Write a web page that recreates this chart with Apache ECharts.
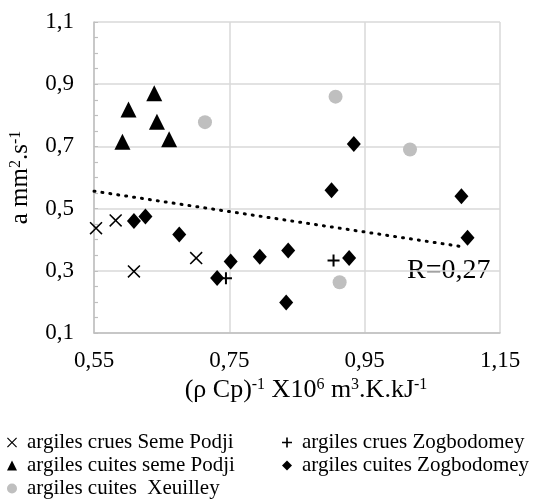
<!DOCTYPE html>
<html>
<head>
<meta charset="utf-8">
<title>diffusivité</title>
<script src="https://cdn.jsdelivr.net/npm/echarts@6/dist/echarts.min.js"></script>
<style>
  html, body { margin: 0; padding: 0; background: #fff; }
  #main { width: 533px; height: 500px; }
</style>
</head>
<body>
<div id="main"></div>
<script>
// values
var cruesSemeX = [0.553, 0.582, 0.609, 0.701];
var cruesSemeY = [0.437, 0.462, 0.298, 0.341];

var cruesZogX = [0.745, 0.904];
var cruesZogY = [0.276, 0.333];

var cuitesSemeX = [0.592, 0.601, 0.639, 0.643, 0.661];
var cuitesSemeY = [0.715, 0.819, 0.871, 0.779, 0.723];

var cuitesZogX = [0.609, 0.626, 0.676, 0.732, 0.752, 0.795, 0.837, 0.834, 0.901, 0.927, 0.934, 1.093, 1.102];
var cuitesZogY = [0.460, 0.475, 0.417, 0.277, 0.330, 0.345, 0.365, 0.198, 0.559, 0.341, 0.708, 0.540, 0.406];

var xeuilleyX = [0.714, 0.907, 0.913, 1.017];
var xeuilleyY = [0.778, 0.860, 0.263, 0.690];

// trend line end points
var trendX = [0.55, 1.093];
var trendY = [0.556, 0.378];

var names = ['argiles crues Seme Podji', 'argiles crues Zogbodomey', 'argiles cuites seme Podji',
             'argiles cuites Zogbodomey', 'argiles cuites  Xeuilley'];

function pairs(xs, ys) {
    return xs.map(function (x, i) { return [x, ys[i]]; });
}

var crossPath = 'path://M0,1 L1,0 L6,5 L11,0 L12,1 L7,6 L12,11 L11,12 L6,7 L1,12 L0,11 L5,6 Z';
var plusPath = 'path://M5,0 H7 V5 H12 V7 H7 V12 H5 V7 H0 V5 H5 Z';
var serif = '"Liberation Serif", serif';

// one legend per entry, placed like the two columns of the original
function legendAt(name, left, top) {
    return {
        left: left,
        top: top,
        padding: 0,
        itemWidth: 10,
        itemHeight: 10,
        textStyle: { fontFamily: serif, fontSize: 21, color: '#000', padding: [0, 0, 0, 5] },
        data: [name]
    };
}

var myChart = echarts.init(document.getElementById('main'));

var supStyle = { fontFamily: serif, fontSize: 16, verticalAlign: 'top', padding: [0, 0, 9, 0] };

var option = {
    animation: false,
    textStyle: { fontFamily: serif, color: '#000' },
    grid: { left: 92, right: 33, top: 22, bottom: 167 },
    xAxis: {
        type: 'value',
        min: 0.55,
        max: 1.15,
        interval: 0.2,
        name: '(ρ Cp){sup|-1} X10{sup|6} m{sup|3}.K.kJ{sup|-1}',
        nameLocation: 'middle',
        nameGap: 43,
        nameTextStyle: {
            fontFamily: serif, fontSize: 26, color: '#000',
            padding: [0, 0, 0, 18],
            rich: { sup: supStyle }
        },
        axisLine: { lineStyle: { color: '#bfbfbf', width: 1.5 } },
        axisTick: { show: false },
        axisLabel: {
            margin: 16,
            fontSize: 23,
            fontFamily: serif,
            color: '#000',
            formatter: function (v) { return v.toFixed(2).replace('.', ','); }
        },
        splitLine: { lineStyle: { color: '#d9d9d9', width: 1.5 } }
    },
    yAxis: {
        type: 'value',
        min: 0.1,
        max: 1.1,
        interval: 0.2,
        name: 'a mm{sup|2}.s{sup|-1}',
        nameLocation: 'middle',
        nameRotate: 90,
        nameGap: 61,
        nameTextStyle: { fontFamily: serif, fontSize: 25, color: '#000', rich: { sup: supStyle } },
        axisLine: { show: true, lineStyle: { color: '#bfbfbf', width: 1.5 } },
        axisTick: { show: true, inside: true, length: 4, lineStyle: { color: '#bfbfbf' } },
        minorTick: { show: true, splitNumber: 4, length: 4, lineStyle: { color: '#bfbfbf', width: 1.2 } },
        axisLabel: {
            margin: 20,
            fontSize: 23,
            fontFamily: serif,
            color: '#000',
            formatter: function (v) { return v.toFixed(1).replace('.', ','); }
        },
        splitLine: { lineStyle: { color: '#d9d9d9', width: 1.5 } }
    },
    legend: [
        legendAt(names[0], 7, 432),
        legendAt(names[2], 7, 455),
        legendAt(names[4], 7, 478),
        legendAt(names[1], 282, 432),
        legendAt(names[3], 282, 455)
    ],
    graphic: [
        {
            type: 'text',
            left: 407,
            top: 257,
            style: { text: 'R=0,27', font: '28px "Liberation Serif"', fill: '#000' }
        }
    ],
    series: [
        {
            name: 'trend',
            type: 'line',
            data: pairs(trendX, trendY),
            symbol: 'none',
            z: 1,
            lineStyle: { color: '#000', width: 3, type: [1, 7], cap: 'round' }
        },
        {
            name: names[0],
            type: 'scatter',
            symbol: crossPath,
            symbolSize: 13,
            itemStyle: { color: '#000', opacity: 1 },
            data: pairs(cruesSemeX, cruesSemeY)
        },
        {
            name: names[1],
            type: 'scatter',
            symbol: plusPath,
            symbolSize: 12,
            itemStyle: { color: '#000', opacity: 1 },
            data: pairs(cruesZogX, cruesZogY)
        },
        {
            name: names[2],
            type: 'scatter',
            symbol: 'triangle',
            symbolSize: 16,
            itemStyle: { color: '#000', opacity: 1 },
            data: pairs(cuitesSemeX, cuitesSemeY)
        },
        {
            name: names[3],
            type: 'scatter',
            symbol: 'diamond',
            symbolSize: [14, 16],
            itemStyle: { color: '#000', opacity: 1 },
            data: pairs(cuitesZogX, cuitesZogY)
        },
        {
            name: names[4],
            type: 'scatter',
            symbol: 'circle',
            symbolSize: 14,
            itemStyle: { color: '#bfbfbf', opacity: 1 },
            data: pairs(xeuilleyX, xeuilleyY)
        }
    ]
};

myChart.setOption(option);
</script>
</body>
</html>
